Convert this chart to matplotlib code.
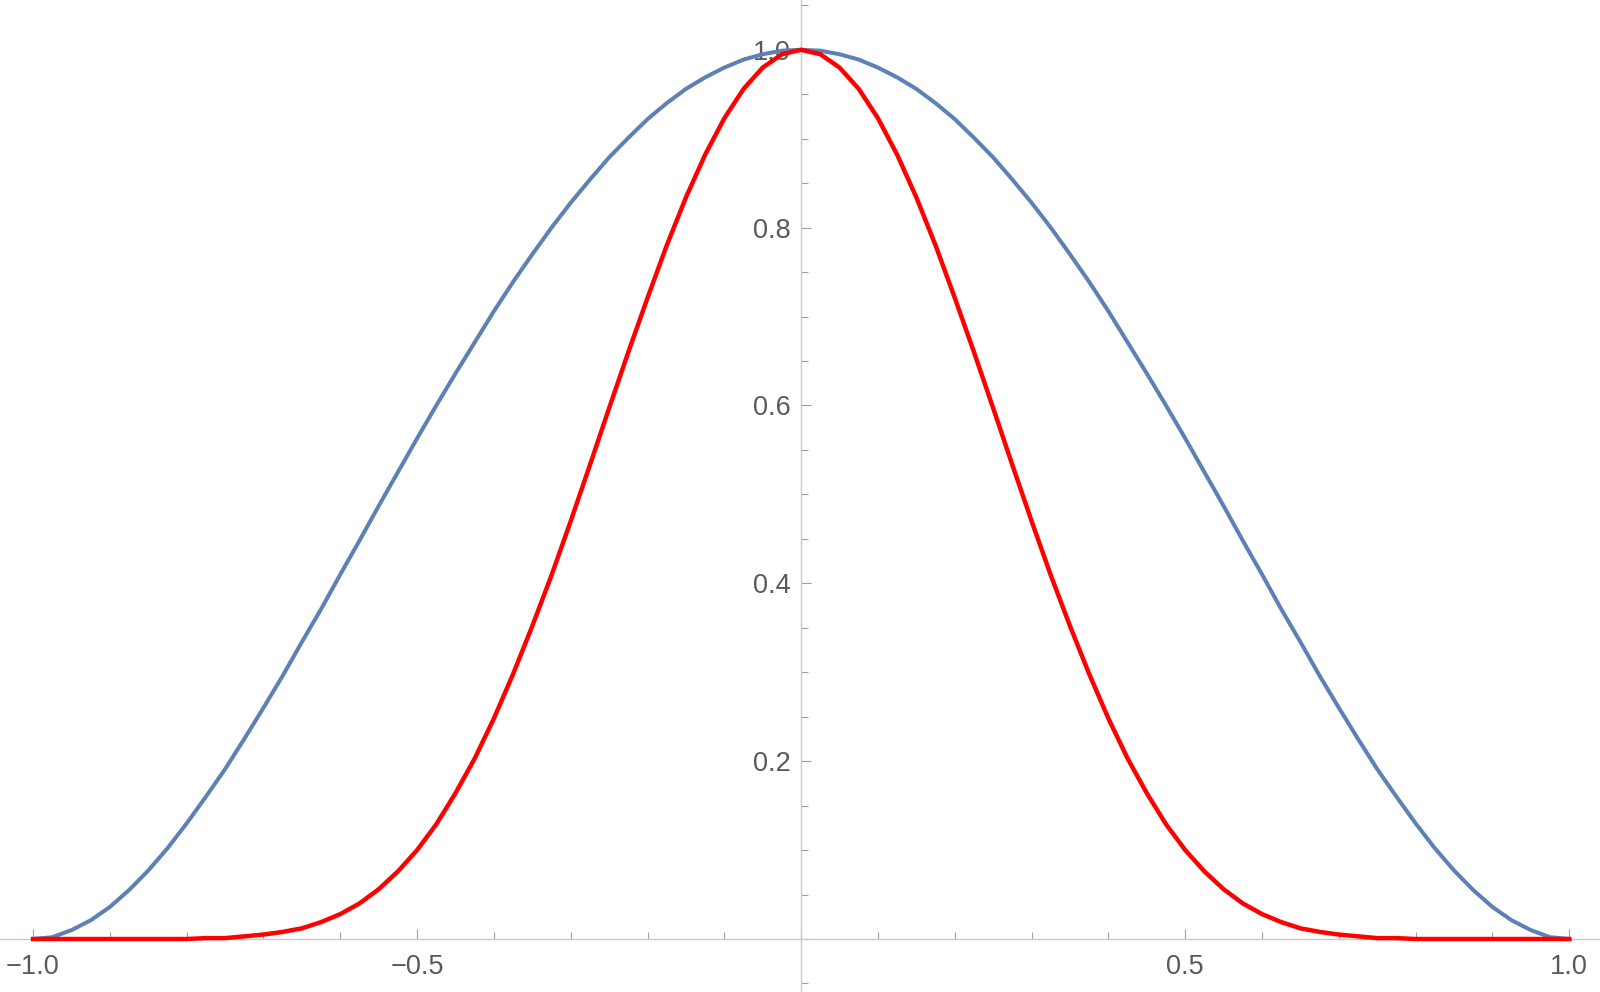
import matplotlib
matplotlib.use("Agg")
from matplotlib import pyplot as plt
from matplotlib.ticker import FixedLocator, MultipleLocator

# x positions, step 0.025 from -1 to 1
xs = [round(-1 + 0.025 * i, 3) for i in range(81)]

# blue curve
blue = [0.000, 0.002, 0.010, 0.021, 0.036, 0.055, 0.077, 0.102, 0.130, 0.160,
        0.191, 0.225, 0.260, 0.296, 0.334, 0.371, 0.410, 0.448, 0.487, 0.525,
        0.563, 0.600, 0.636, 0.671, 0.706, 0.739, 0.770, 0.800, 0.828, 0.854,
        0.879, 0.901, 0.922, 0.940, 0.956, 0.969, 0.980, 0.989, 0.995, 0.999,
        1.000,
        0.999, 0.995, 0.989, 0.980, 0.969, 0.956, 0.940, 0.922, 0.901, 0.879,
        0.854, 0.828, 0.800, 0.770, 0.739, 0.706, 0.671, 0.636, 0.600, 0.563,
        0.525, 0.487, 0.448, 0.410, 0.371, 0.334, 0.296, 0.260, 0.225, 0.191,
        0.160, 0.130, 0.102, 0.077, 0.055, 0.036, 0.021, 0.010, 0.002, 0.000]

# red curve
red = [0.000, 0.000, 0.000, 0.000, 0.000, 0.000, 0.000, 0.000, 0.000, 0.001,
       0.001, 0.003, 0.005, 0.008, 0.012, 0.019, 0.028, 0.040, 0.056, 0.076,
       0.100, 0.129, 0.164, 0.203, 0.248, 0.298, 0.352, 0.409, 0.470, 0.533,
       0.597, 0.660, 0.721, 0.780, 0.834, 0.882, 0.923, 0.956, 0.980, 0.995,
       1.000,
       0.995, 0.980, 0.956, 0.923, 0.882, 0.834, 0.780, 0.721, 0.660, 0.597,
       0.533, 0.470, 0.409, 0.352, 0.298, 0.248, 0.203, 0.164, 0.129, 0.100,
       0.076, 0.056, 0.040, 0.028, 0.019, 0.012, 0.008, 0.005, 0.003, 0.001,
       0.001, 0.000, 0.000, 0.000, 0.000, 0.000, 0.000, 0.000, 0.000, 0.000]

x_major = [-1.0, -0.5, 0.5, 1.0]
x_labels = ['\u22121.0', '\u22120.5', '0.5', '1.0']
y_major = [0.2, 0.4, 0.6, 0.8, 1.0]
y_labels = ['0.2', '0.4', '0.6', '0.8', '1.0']

plt.rcParams['font.family'] = ['Liberation Sans', 'DejaVu Sans']

fig = plt.figure(figsize=(16, 9.92), dpi=100)
ax = fig.add_axes([0, 0, 1, 1])

ax.plot(xs, blue, color='#5E81B5', lw=2.9, zorder=3, solid_joinstyle='round')
ax.plot(xs, red, color='#FF0000', lw=3.2, zorder=4, solid_joinstyle='round')

ax.set_xlim(-1.043, 1.040)
ax.set_ylim(-0.0596, 1.056)

# axes through the origin
for s in ['top', 'right']:
    ax.spines[s].set_visible(False)
ax.spines['left'].set_position(('data', 0))
ax.spines['bottom'].set_position(('data', 0))
for s in ['left', 'bottom']:
    ax.spines[s].set_color('#c8c8c8')
    ax.spines[s].set_linewidth(1.0)

ax.xaxis.set_major_locator(FixedLocator(x_major))
ax.xaxis.set_minor_locator(MultipleLocator(0.1))
ax.yaxis.set_major_locator(FixedLocator(y_major))
ax.yaxis.set_minor_locator(MultipleLocator(0.05))
ax.set_xticklabels(x_labels)
ax.set_yticklabels(y_labels)

ax.tick_params(axis='both', which='both', direction='in', color='#a0a0a0', width=0.8,
               labelcolor='#595959', labelsize=19.5)
ax.tick_params(axis='both', which='major', length=7.5)
ax.tick_params(axis='both', which='minor', length=4.8)
ax.tick_params(axis='x', which='major', pad=11)
ax.tick_params(axis='y', which='major', pad=7.5)

plt.savefig('out.png', dpi=100)
